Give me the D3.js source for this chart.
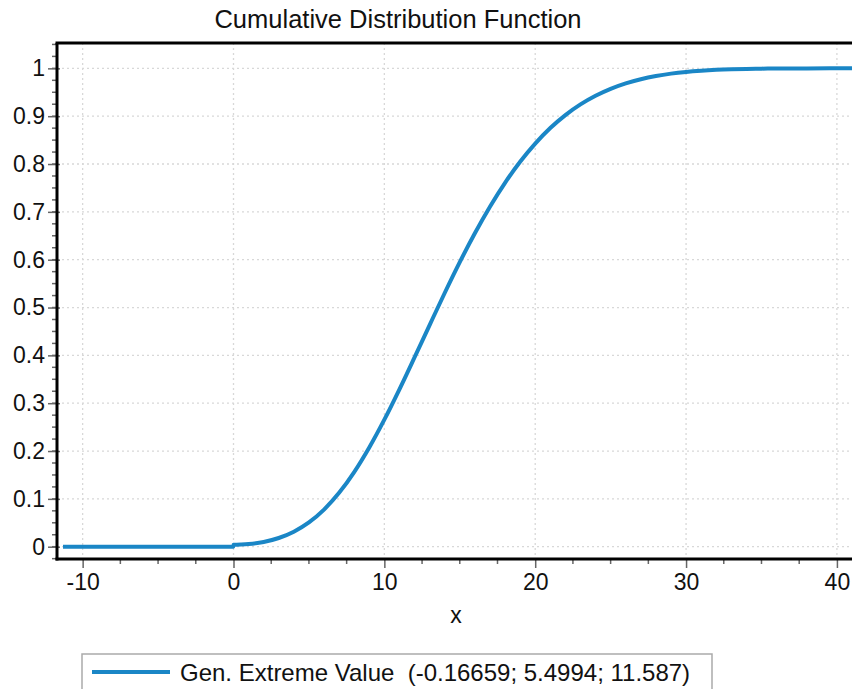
<!DOCTYPE html>
<html><head><meta charset="utf-8">
<script src="https://cdn.jsdelivr.net/npm/d3@7"></script>
<style>
body{margin:0;background:#fff;}
text{font-family:"Liberation Sans",Arial,sans-serif;fill:#111;}
</style></head>
<body><svg id="c" width="852" height="689"></svg>
<script>
const title = "Cumulative Distribution Function";
const xLabel = "x";
const legendLabel = "Gen. Extreme Value  (-0.16659; 5.4994; 11.587)";
const xTicks = [-10, 0, 10, 20, 30, 40];
const yTicks = [0, 0.1, 0.2, 0.3, 0.4, 0.5, 0.6, 0.7, 0.8, 0.9, 1];
const xValues = [-11.3, -8, -4, -0.01, 0, 1, 2, 3, 4, 5, 6, 7, 8, 9, 10, 11, 12, 13, 14, 15, 16, 17, 18, 19, 20, 21, 22, 23, 24, 25, 26, 27, 28, 29, 30, 31, 32, 33, 34, 35, 36, 38, 41];
const cdfValues = [0, 0, 0, 0, 0.004, 0.0055, 0.0099, 0.0182, 0.0314, 0.0507, 0.0776, 0.1126, 0.1561, 0.2075, 0.2656, 0.3290, 0.3957, 0.4634, 0.5304, 0.5949, 0.6553, 0.7108, 0.7607, 0.8047, 0.8427, 0.8752, 0.9023, 0.9246, 0.9427, 0.9572, 0.9686, 0.9773, 0.9840, 0.9890, 0.9926, 0.9951, 0.9969, 0.9981, 0.9989, 0.9994, 0.9997, 0.9999, 1.0];

const svg = d3.select("#c");
const L = 57, R = 852, T = 43, B = 559;
const x = d3.scaleLinear().domain([-11.7, 41.0]).range([L, R]);
const y = d3.scaleLinear().domain([-0.0257, 1.053]).range([B, T]);

// grid
const g = svg.append("g");
g.selectAll("line.gx").data(xTicks).join("line")
  .attr("x1", d => x(d)).attr("x2", d => x(d)).attr("y1", T).attr("y2", B)
  .attr("stroke", "#d8d8d8").attr("stroke-width", 1.3).attr("stroke-dasharray", "2,3");
g.selectAll("line.gy").data(yTicks).join("line")
  .attr("x1", L).attr("x2", R).attr("y1", d => y(d)).attr("y2", d => y(d))
  .attr("stroke", "#d8d8d8").attr("stroke-width", 1.3).attr("stroke-dasharray", "2,3");

// minor ticks
const xMinor = d3.range(-12.5, 42, 2.5).filter(v => x(v) >= L && x(v) <= R && Math.abs(v % 10) > 0.01);
const yMinor = d3.range(-0.025, 1.06, 0.025).filter(v => y(v) >= T && y(v) <= B);
svg.append("g").selectAll("line").data(xMinor).join("line")
  .attr("x1", d => x(d)).attr("x2", d => x(d)).attr("y1", B).attr("y2", B + 5)
  .attr("stroke", "#666").attr("stroke-width", 1.5);
svg.append("g").selectAll("line").data(yMinor).join("line")
  .attr("x1", L - 5).attr("x2", L).attr("y1", d => y(d)).attr("y2", d => y(d))
  .attr("stroke", "#666").attr("stroke-width", 1.5);

// axes
const xAxis = d3.axisBottom(x).tickValues(xTicks).tickSize(9).tickPadding(6).tickFormat(d => String(d));
const yAxis = d3.axisLeft(y).tickValues(yTicks).tickSize(9).tickPadding(3).tickFormat(d => d === 0 || d === 1 ? String(d) : d.toFixed(1));
const gx = svg.append("g").attr("transform", `translate(0,${B})`).call(xAxis);
const gy = svg.append("g").attr("transform", `translate(${L},0)`).call(yAxis);
[gx, gy].forEach(a => {
  a.select(".domain").remove();
  a.selectAll(".tick line").attr("stroke", "#666").attr("stroke-width", 1.5);
  a.selectAll(".tick text").attr("font-size", 23).style("font-family", "'Liberation Sans',Arial,sans-serif").attr("fill", "#111");
});
gy.selectAll(".tick line").attr("x1", 3);
gx.selectAll(".tick line").attr("y1", 0);

// curve
const line = d3.line().x((d, i) => x(xValues[i])).y(d => y(d)).curve(d3.curveMonotoneX);
svg.append("path").datum(cdfValues).attr("d", line)
  .attr("fill", "none").attr("stroke", "#1a86c6").attr("stroke-width", 4);

// frame lines
svg.append("line").attr("x1", L).attr("x2", L).attr("y1", T).attr("y2", B + 1.5).attr("stroke", "#000").attr("stroke-width", 3);
svg.append("line").attr("x1", L - 1.5).attr("x2", R).attr("y1", B).attr("y2", B).attr("stroke", "#000").attr("stroke-width", 3);
svg.append("line").attr("x1", L - 1.5).attr("x2", R).attr("y1", T).attr("y2", T).attr("stroke", "#000").attr("stroke-width", 3);

// title and label
svg.append("text").attr("x", 398).attr("y", 28).attr("text-anchor", "middle").attr("font-size", 25.5).text(title);
svg.append("text").attr("x", 456).attr("y", 623).attr("text-anchor", "middle").attr("font-size", 23).text(xLabel);

// legend
svg.append("rect").attr("x", 82).attr("y", 654).attr("width", 630).attr("height", 50)
  .attr("fill", "#fff").attr("stroke", "#aaa").attr("stroke-width", 1.5);
svg.append("line").attr("x1", 92).attr("x2", 170).attr("y1", 672).attr("y2", 672)
  .attr("stroke", "#1a86c6").attr("stroke-width", 4);
svg.append("text").attr("x", 180).attr("y", 681).attr("font-size", 24).attr("xml:space", "preserve").text(legendLabel);
</script></body></html>
